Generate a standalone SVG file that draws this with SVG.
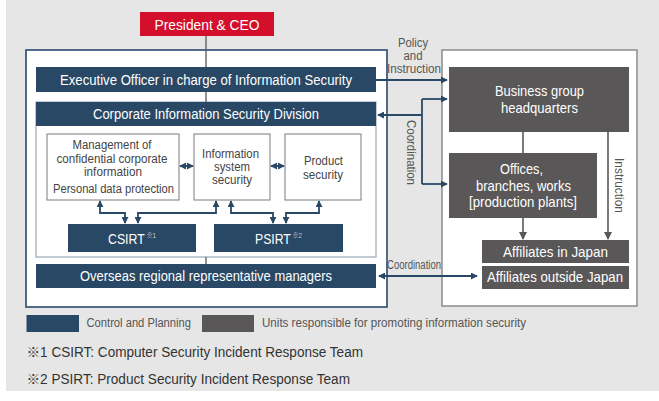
<svg xmlns="http://www.w3.org/2000/svg" width="659" height="401" viewBox="0 0 659 401">
<style>
text{font-family:"Liberation Sans Narrow","Liberation Sans",Arial,"Noto Sans CJK JP",sans-serif;}
.w{fill:#ffffff;font-size:14px;text-anchor:middle;}
.wl{fill:#ffffff;font-size:15px;text-anchor:middle;}
.in{fill:#444444;font-size:12.5px;text-anchor:middle;}
.lb{fill:#555555;font-size:12.5px;text-anchor:middle;}
.lg{fill:#555555;font-size:12px;}
.fn{fill:#333333;font-size:14px;}
.sup{fill:#c9d1da;font-size:7.5px;}
.blue{fill:#294865;}
.gray{fill:#5a5758;}
.bl{stroke:#294865;stroke-width:1.8;fill:none;}
.gl{stroke:#5a5758;stroke-width:1.6;fill:none;}
.thin{stroke:#5a5758;stroke-width:1.3;fill:none;}
.ba{marker-end:url(#ab);marker-start:url(#ab);}
.be{marker-end:url(#ab);}
.ge{marker-end:url(#ag);}
</style>
<defs>
<marker id="ab" viewBox="0 0 8 8" refX="7" refY="4" markerWidth="7" markerHeight="7" markerUnits="userSpaceOnUse" orient="auto-start-reverse"><path d="M0,0 L8,4 L0,8 z" fill="#294865"/></marker>
<marker id="ag" viewBox="0 0 8 8" refX="7" refY="4" markerWidth="8" markerHeight="8" markerUnits="userSpaceOnUse" orient="auto-start-reverse"><path d="M0,0 L8,4 L0,8 z" fill="#5a5758"/></marker>
</defs>
<rect x="0" y="0" width="659" height="401" fill="#ffffff"/>
<rect x="6" y="0" width="653" height="391" fill="#e6e6e6"/>

<g id="left-frame"><rect x="26" y="50" width="361" height="257" fill="#ffffff" stroke="#3d5c7b" stroke-width="1.8"/></g>
<g id="right-frame"><rect x="442" y="50" width="195" height="256" fill="#ffffff" stroke="#8c8c8c" stroke-width="1.5"/></g>

<g id="ceo"><rect x="140" y="12" width="134" height="24" fill="#d30f2c"/>
<text class="wl" x="207" y="29.5" textLength="105" lengthAdjust="spacingAndGlyphs">President &amp; CEO</text></g>

<g id="exec"><rect class="blue" x="36" y="67" width="340" height="25"/>
<text class="w" x="206" y="84.5" textLength="292" lengthAdjust="spacingAndGlyphs">Executive Officer in charge of Information Security</text></g>

<g id="corp-division">
<rect x="36" y="102" width="340" height="155" fill="#ffffff" stroke="#9aa8b6" stroke-width="1.2"/>
<rect class="blue" x="36" y="102" width="340" height="24"/>
<text class="w" x="206" y="119" font-size="14.5" textLength="226" lengthAdjust="spacingAndGlyphs">Corporate Information Security Division</text>
</g>

<g id="confidential"><rect x="47" y="134" width="132" height="66" fill="#ffffff" stroke="#7a7a7a" stroke-width="1"/>
<text class="in" x="112" y="148.5" textLength="79" lengthAdjust="spacingAndGlyphs">Management of</text>
<text class="in" x="112" y="162.5" textLength="111" lengthAdjust="spacingAndGlyphs">confidential corporate</text>
<text class="in" x="113" y="176" textLength="58" lengthAdjust="spacingAndGlyphs">information</text>
<text class="in" x="113.5" y="192.5" textLength="121" lengthAdjust="spacingAndGlyphs">Personal data protection</text></g>

<g id="info-system"><rect x="194" y="134" width="76" height="66" fill="#ffffff" stroke="#7a7a7a" stroke-width="1"/>
<text class="in" x="230.5" y="158" textLength="57" lengthAdjust="spacingAndGlyphs">Information</text>
<text class="in" x="232" y="171" textLength="36" lengthAdjust="spacingAndGlyphs">system</text>
<text class="in" x="232" y="184" textLength="40" lengthAdjust="spacingAndGlyphs">security</text></g>

<g id="product"><rect x="285" y="134" width="76" height="66" fill="#ffffff" stroke="#7a7a7a" stroke-width="1"/>
<text class="in" x="323.5" y="165" textLength="39" lengthAdjust="spacingAndGlyphs">Product</text>
<text class="in" x="323" y="178.5" textLength="40" lengthAdjust="spacingAndGlyphs">security</text></g>

<g id="csirt"><rect class="blue" x="68" y="224" width="128" height="28"/>
<text x="108" y="243.5" fill="#ffffff" font-size="15" textLength="48" lengthAdjust="spacingAndGlyphs">CSIRT<tspan class="sup" dx="2" dy="-6">※1</tspan></text></g>

<g id="psirt"><rect class="blue" x="214" y="224" width="129" height="28"/>
<text x="255" y="243.5" fill="#ffffff" font-size="15" textLength="47" lengthAdjust="spacingAndGlyphs">PSIRT<tspan class="sup" dx="2" dy="-6">※2</tspan></text></g>

<g id="overseas"><rect class="blue" x="36" y="264" width="340" height="24"/>
<text class="w" x="206" y="281" textLength="252" lengthAdjust="spacingAndGlyphs">Overseas regional representative managers</text></g>

<g id="hq"><rect class="gray" x="449" y="67" width="180" height="65"/>
<text class="wl" x="539.5" y="96" textLength="89" lengthAdjust="spacingAndGlyphs">Business group</text>
<text class="wl" x="539.5" y="112.5" textLength="77" lengthAdjust="spacingAndGlyphs">headquarters</text></g>

<g id="offices"><rect class="gray" x="449" y="153" width="148" height="65"/>
<text class="wl" x="521.5" y="173.5" textLength="43" lengthAdjust="spacingAndGlyphs">Offices,</text>
<text class="wl" x="523.5" y="190.5" textLength="95" lengthAdjust="spacingAndGlyphs">branches, works</text>
<text class="wl" x="523" y="206.5" textLength="108" lengthAdjust="spacingAndGlyphs">[production plants]</text></g>

<g id="affiliates-japan"><rect class="gray" x="482" y="240" width="147" height="23"/>
<text class="wl" x="555.5" y="257.3" textLength="105" lengthAdjust="spacingAndGlyphs">Affiliates in Japan</text></g>

<g id="affiliates-outside"><rect class="gray" x="482" y="266" width="147" height="23"/>
<text class="wl" x="555" y="282.3" textLength="136" lengthAdjust="spacingAndGlyphs">Affiliates outside Japan</text></g>

<g id="connectors">
<path class="thin" d="M206,36 V67 M206,92 V102 M206,257 V264"/>
<path class="bl be" d="M376,80 H447"/>
<path class="bl" d="M422,99 V184"/>
<path class="bl be" d="M422,99 H447"/>
<path class="bl be" d="M422,184 H447"/>
<path class="bl be" d="M422,115 H378"/>
<path class="bl ba" d="M379,276 H477"/>
<path class="bl ba" d="M180,166 H193"/>
<path class="bl ba" d="M271,166 H284"/>
<path class="bl ba" d="M100,201 V213 H125 V223"/>
<path class="bl ba" d="M138,223 V213 H216 V201"/>
<path class="bl ba" d="M231,201 V213 H273 V223"/>
<path class="bl ba" d="M286,223 V213 H319 V201"/>
<path class="gl" d="M523,132 V153"/>
<path class="gl ge" d="M523,218 V239"/>
<path class="gl ge" d="M608,132 V239"/>
<text class="lb" x="413" y="47" textLength="30" lengthAdjust="spacingAndGlyphs">Policy</text>
<text class="lb" x="413" y="60" textLength="19" lengthAdjust="spacingAndGlyphs">and</text>
<text class="lb" x="414" y="73" textLength="54" lengthAdjust="spacingAndGlyphs">Instruction</text>
<text class="lb" x="414" y="269" font-size="12" textLength="54" lengthAdjust="spacingAndGlyphs">Coordination</text>
<text class="lb" transform="translate(406.5,152.5) rotate(90)" x="0" y="0" textLength="65" lengthAdjust="spacingAndGlyphs">Coordination</text>
<text class="lb" transform="translate(615,185.5) rotate(90)" x="0" y="0" font-size="13" textLength="55" lengthAdjust="spacingAndGlyphs">Instruction</text>
</g>

<g id="legend">
<rect class="blue" x="26.5" y="315" width="52.5" height="17"/>
<text class="lg" x="86.5" y="327" textLength="104.5" lengthAdjust="spacingAndGlyphs">Control and Planning</text>
<rect class="gray" x="202" y="315" width="52" height="17"/>
<text class="lg" x="262" y="327" textLength="264" lengthAdjust="spacingAndGlyphs">Units responsible for promoting information security</text>
</g>

<g id="footnotes">
<text class="fn" x="26.5" y="357" textLength="336.5" lengthAdjust="spacingAndGlyphs">※1 CSIRT: Computer Security Incident Response Team</text>
<text class="fn" x="26.5" y="383.5" textLength="323.5" lengthAdjust="spacingAndGlyphs">※2 PSIRT: Product Security Incident Response Team</text>
</g>
</svg>
